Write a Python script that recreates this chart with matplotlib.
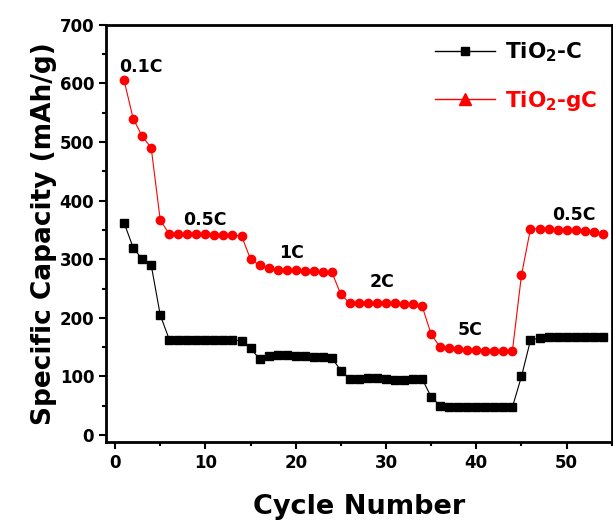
import matplotlib.pyplot as plt
from matplotlib.lines import Line2D
from matplotlib.ticker import MultipleLocator

plt.rcParams['font.family'] = ['DejaVu Sans']
plt.rcParams['font.weight'] = 'bold'
plt.rcParams['mathtext.default'] = 'bf'

cycles = list(range(1, 55))
tio2_c = [362, 320, 300, 290, 205, 163, 162, 162, 162, 163, 162, 162, 162, 161,
          148, 130, 135, 136, 136, 135, 135, 134, 133, 132,
          110, 95, 96, 97, 97, 96, 94, 94, 95, 96,
          65, 50, 48, 48, 48, 48, 48, 48, 48, 48,
          100, 162, 166, 167, 168, 168, 168, 168, 168, 168]
tio2_gc = [605, 540, 510, 490, 367, 343, 343, 343, 343, 343, 342, 342, 341, 340,
           300, 290, 285, 282, 281, 281, 280, 280, 279, 278,
           240, 225, 225, 225, 225, 225, 225, 224, 223, 220,
           172, 150, 148, 147, 146, 145, 144, 144, 144, 144,
           273, 352, 352, 351, 350, 350, 350, 349, 347, 343]

rate_labels = ['0.1C', '0.5C', '1C', '2C', '5C', '0.5C']
rate_x = [2.9, 9.9, 19.5, 29.6, 39.3, 50.8]
rate_y = [628, 367, 310, 261, 179, 375]

fig = plt.figure(figsize=(6.13, 5.27), dpi=100)
ax = fig.add_axes([0.173, 0.161, 0.825, 0.792])

ax.plot(cycles, tio2_c, color='black', lw=0.8, marker='s', ms=6)
ax.plot(cycles, tio2_gc, color='red', lw=0.8, marker='o', ms=6)

for lab, x, y in zip(rate_labels, rate_x, rate_y):
    ax.text(x, y, lab, ha='center', va='center', fontsize=12.5, fontweight='bold')

ax.set_xlim(-1, 55)
ax.set_ylim(-12, 700)
ax.xaxis.set_major_locator(MultipleLocator(10))
ax.xaxis.set_minor_locator(MultipleLocator(5))
ax.yaxis.set_major_locator(MultipleLocator(100))
ax.yaxis.set_minor_locator(MultipleLocator(50))
ax.tick_params(which='both', direction='out', width=1.5, labelsize=12)
ax.tick_params(which='major', length=5)
ax.tick_params(which='minor', length=3)
for s in ax.spines.values():
    s.set_linewidth(2)

ax.set_xlabel('Cycle Number', fontsize=19.5, fontweight='bold', labelpad=16)
ax.set_ylabel('Specific Capacity (mAh/g)', fontsize=19, fontweight='bold', labelpad=2)

handles = [Line2D([], [], color='black', lw=1, marker='s', ms=6),
           Line2D([], [], color='red', lw=1, marker='^', ms=8)]
leg = ax.legend(handles, ['TiO$_2$-C', 'TiO$_2$-gC'], loc='upper left',
                bbox_to_anchor=(0.65, 0.962), frameon=False,
                prop={'weight': 'bold', 'size': 15.5}, borderpad=0, borderaxespad=0,
                handlelength=2.8, handletextpad=0.45, labelspacing=1.15)
leg.get_texts()[1].set_color('red')

fig.savefig('out.png', dpi=100)
